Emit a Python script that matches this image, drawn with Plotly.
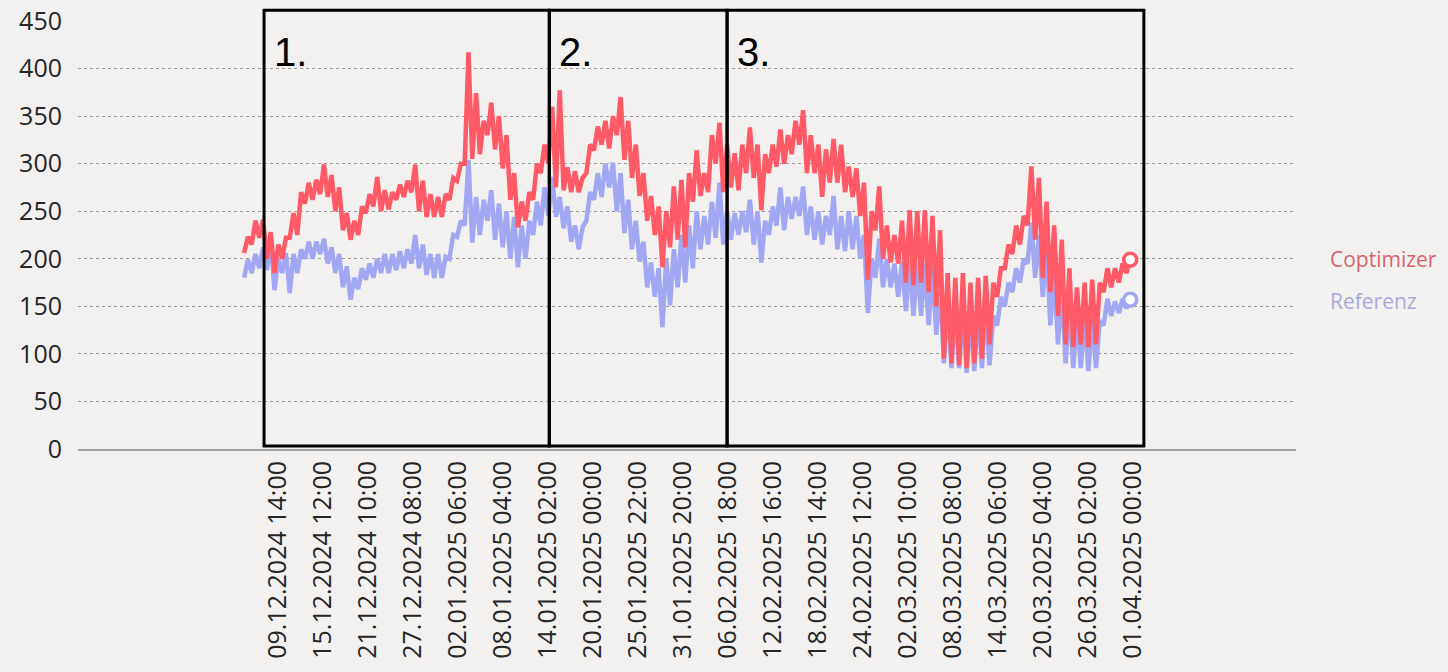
import pandas as pd
import plotly.graph_objects as go

# daily values from 05.12.2024 to 31.03.2025 (one high and one low per day)
start_day = "2024-12-05"

copt_hi = [223, 240, 241, 228, 215, 222, 248, 270, 280, 283,
           299, 288, 275, 248, 240, 255, 268, 286, 272, 270,
           278, 282, 299, 282, 268, 265, 268, 285, 300, 417,
           374, 345, 364, 350, 330, 290, 260, 270, 300, 320,
           360, 377, 296, 292, 285, 320, 339, 345, 350, 370,
           345, 320, 290, 266, 255, 250, 276, 283, 290, 314,
           290, 330, 343, 320, 311, 320, 338, 320, 310, 320,
           336, 330, 345, 356, 330, 320, 315, 326, 320, 297,
           295, 280, 250, 276, 235, 225, 240, 251, 250, 251,
           245, 230, 185, 180, 185, 175, 180, 182, 175, 190,
           215, 235, 245, 297, 285, 260, 235, 220, 190, 170,
           175, 178, 175, 190, 190, 195, 199]

copt_lo = [206, 215, 222, 200, 185, 200, 222, 225, 258, 262,
           268, 265, 250, 230, 220, 225, 248, 255, 250, 252,
           262, 265, 270, 250, 244, 244, 244, 262, 282, 300,
           305, 310, 330, 315, 295, 262, 233, 240, 262, 290,
           300, 275, 272, 270, 270, 290, 314, 320, 316, 330,
           304, 285, 266, 240, 225, 191, 212, 220, 212, 260,
           266, 270, 300, 270, 275, 272, 290, 285, 251, 290,
           297, 300, 310, 320, 290, 290, 265, 280, 280, 270,
           265, 245, 178, 230, 200, 196, 195, 175, 172, 175,
           165, 150, 95, 90, 88, 85, 90, 95, 110, 160,
           190, 205, 215, 235, 220, 180, 165, 140, 110, 107,
           110, 107, 110, 165, 170, 175, 185]

ref_hi = [199, 205, 212, 218, 200, 206, 205, 210, 218, 218,
          221, 212, 205, 192, 180, 190, 195, 200, 205, 205,
          208, 210, 225, 215, 205, 205, 202, 225, 240, 304,
          265, 262, 272, 258, 250, 244, 235, 240, 260, 275,
          286, 265, 255, 235, 233, 270, 290, 300, 301, 290,
          262, 240, 218, 196, 190, 200, 210, 225, 235, 250,
          245, 260, 280, 250, 248, 250, 262, 250, 240, 255,
          275, 265, 265, 276, 255, 250, 245, 266, 245, 250,
          245, 225, 200, 221, 200, 195, 198, 199, 195, 195,
          190, 175, 160, 150, 150, 145, 148, 150, 140, 160,
          175, 190, 200, 238, 225, 210, 185, 170, 155, 140,
          140, 140, 135, 158, 155, 158, 157]

ref_lo = [180, 185, 190, 188, 167, 185, 164, 185, 200, 200,
          205, 195, 185, 170, 157, 168, 178, 180, 185, 185,
          188, 190, 195, 190, 183, 180, 180, 200, 223, 235,
          217, 225, 240, 220, 212, 200, 191, 200, 225, 235,
          245, 244, 232, 218, 210, 240, 262, 265, 275, 250,
          227, 210, 197, 170, 160, 128, 151, 170, 175, 190,
          210, 215, 222, 215, 220, 225, 228, 215, 196, 225,
          235, 230, 242, 245, 225, 220, 215, 225, 210, 208,
          210, 200, 143, 180, 170, 170, 160, 145, 140, 140,
          130, 120, 90, 85, 85, 80, 82, 85, 88, 130,
          150, 165, 175, 195, 180, 160, 130, 110, 90, 85,
          85, 82, 85, 130, 140, 143, 148]

tick_labels = ["09.12.2024 14:00", "15.12.2024 12:00", "21.12.2024 10:00",
               "27.12.2024 08:00", "02.01.2025 06:00", "08.01.2025 04:00",
               "14.01.2025 02:00", "20.01.2025 00:00", "25.01.2025 22:00",
               "31.01.2025 20:00", "06.02.2025 18:00", "12.02.2025 16:00",
               "18.02.2025 14:00", "24.02.2025 12:00", "02.03.2025 10:00",
               "08.03.2025 08:00", "14.03.2025 06:00", "20.03.2025 04:00",
               "26.03.2025 02:00", "01.04.2025 00:00"]

# marked periods
box_starts = ["07.12.2024 18:00", "14.01.2025 06:00", "06.02.2025 15:00"]
box_ends = ["14.01.2025 06:00", "06.02.2025 15:00", "02.04.2025 10:00"]
box_names = ["1.", "2.", "3."]

x_range = ["13.11.2024 07:00", "22.04.2025 10:00"]

fmt = "%d.%m.%Y %H:%M"


def interleave(lo, hi):
    xs, ys = [], []
    for day, l, h in zip(pd.date_range(start_day, periods=len(lo), freq="D"), lo, hi):
        xs += [day + pd.Timedelta(hours=3), day + pd.Timedelta(hours=15)]
        ys += [l, h]
    return xs, ys


RED = "#ff5a66"
BLUE = "#a2a7f3"
BG = "#f2f1f0"
FONT = "Open Sans"

fig = go.Figure()

for name, lo, hi, color in [("Referenz", ref_lo, ref_hi, BLUE),
                            ("Coptimizer", copt_lo, copt_hi, RED)]:
    xs, ys = interleave(lo, hi)
    fig.add_trace(go.Scatter(x=xs, y=ys, mode="lines", name=name,
                             line=dict(color=color, width=4.5)))
    # open ring at the end of each line
    fig.add_trace(go.Scatter(x=[xs[-1]], y=[ys[-1]], mode="markers",
                             showlegend=False,
                             marker=dict(size=13, color="white",
                                         line=dict(color=color, width=3.5))))

for s, e, label in zip(box_starts, box_ends, box_names):
    x0 = pd.to_datetime(s, format=fmt)
    x1 = pd.to_datetime(e, format=fmt)
    fig.add_shape(type="rect", xref="x", yref="paper", x0=x0, x1=x1,
                  y0=0.007, y1=1.023, line=dict(color="black", width=3),
                  fillcolor="rgba(0,0,0,0)", layer="above")
    fig.add_annotation(x=x0, y=1.0, xref="x", yref="paper", text=label,
                       showarrow=False, xanchor="left", yanchor="top",
                       xshift=8, yshift=-8,
                       font=dict(family="Liberation Sans, Arial", size=40, color="black"))

fig.add_annotation(x=1.0, y=200, xref="paper", yref="y", text="Coptimizer",
                   showarrow=False, xanchor="left", xshift=32,
                   font=dict(family=FONT, size=21, color="#d9646e"))
fig.add_annotation(x=1.0, y=156, xref="paper", yref="y", text="Referenz",
                   showarrow=False, xanchor="left", xshift=32,
                   font=dict(family=FONT, size=21, color="#aaaad8"))

fig.update_layout(
    width=1448, height=672,
    margin=dict(l=78, r=152, t=20, b=223),
    paper_bgcolor=BG, plot_bgcolor=BG,
    showlegend=False,
    font=dict(family=FONT, color="#262626"),
    xaxis=dict(
        type="date",
        range=[pd.to_datetime(v, format=fmt) for v in x_range],
        tickvals=[pd.to_datetime(t, format=fmt) for t in tick_labels],
        ticktext=tick_labels,
        tickangle=-90,
        tickfont=dict(size=25),
        ticklabelstandoff=0,
        showgrid=False,
        showline=True, linecolor="#a0a0a0", linewidth=2,
        zeroline=False,
        automargin=False,
    ),
    yaxis=dict(
        range=[0, 451],
        tickvals=list(range(0, 451, 50)),
        tickfont=dict(size=25),
        ticklabelstandoff=15,
        ticklabeloverflow="allow",
        showgrid=True, gridcolor="#9a9a9a", griddash="dot", gridwidth=1,
        zeroline=False,
        showline=False,
        automargin=False,
    ),
)

# drop the default page margin so the figure fills the window
fig.write_html("out.html",
               config={"displayModeBar": False},
               post_script="document.body.style.margin='0';"
                           "document.body.style.background='#f2f1f0';")
